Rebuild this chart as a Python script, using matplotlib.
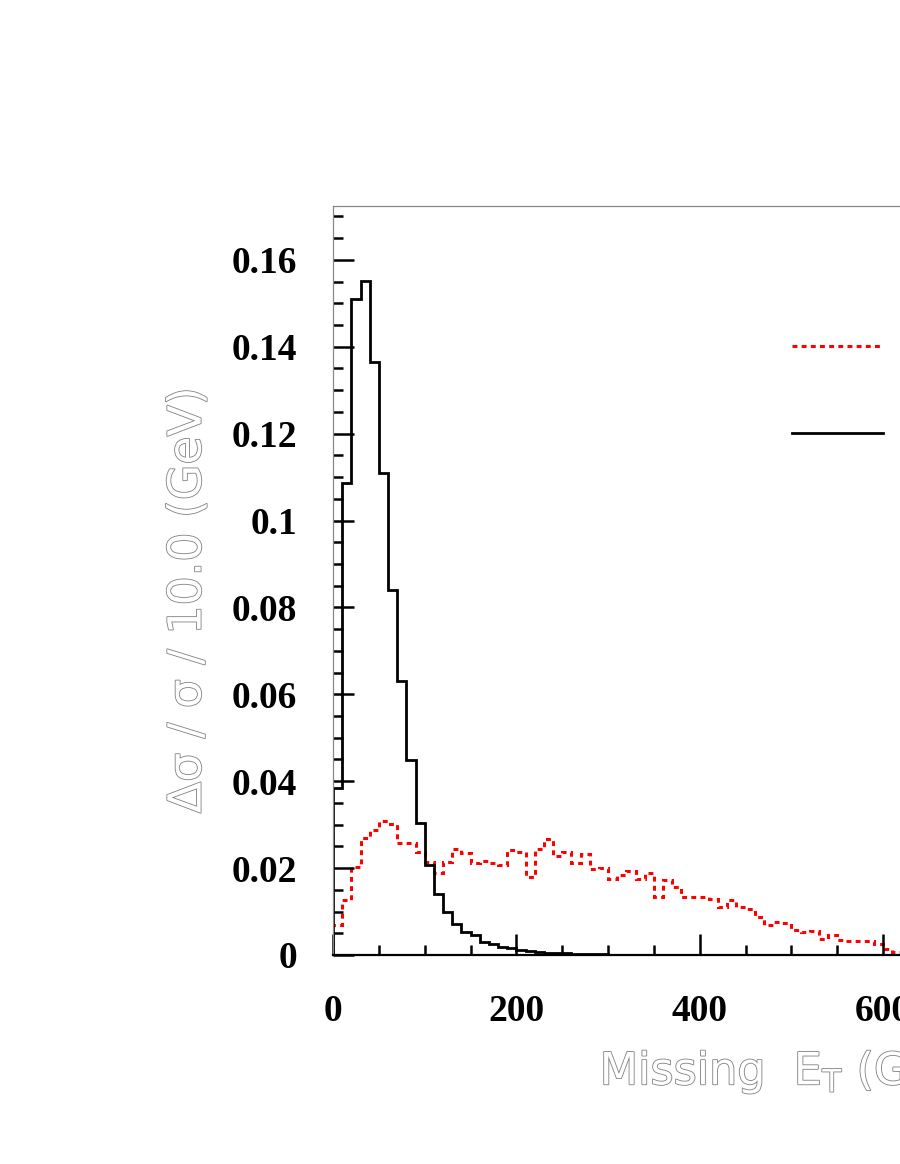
import matplotlib
matplotlib.use("Agg")
import matplotlib.pyplot as plt
import matplotlib.patheffects as pe
from matplotlib.lines import Line2D
from matplotlib.ticker import MultipleLocator, FormatStrFormatter
import numpy as np

# bin contents, 10 GeV bins starting at 0
signal_vals = [0.0068, 0.0127, 0.0203, 0.0269, 0.0288, 0.0308, 0.0301, 0.0257, 0.0257, 0.0238,
               0.0215, 0.0188, 0.0213, 0.0244, 0.0234, 0.0211, 0.0216, 0.0212, 0.0207, 0.0241,
               0.0238, 0.0180, 0.0243, 0.0266, 0.0228, 0.0238, 0.0211, 0.0233, 0.0197, 0.0200,
               0.0174, 0.0184, 0.0194, 0.0176, 0.0189, 0.0134, 0.0173, 0.0157, 0.0133, 0.0133,
               0.0133, 0.0130, 0.0111, 0.0127, 0.0110, 0.0107, 0.0087, 0.0069, 0.0076, 0.0073,
               0.0058, 0.0053, 0.0055, 0.0037, 0.0047, 0.0034, 0.0033, 0.0033, 0.0033, 0.0025,
               0.0013, 0.0008]
background_vals = [0.0384, 0.1086, 0.1509, 0.1552, 0.1366, 0.1109, 0.0840, 0.0631, 0.0449, 0.0303,
                   0.0207, 0.0140, 0.0100, 0.0071, 0.0054, 0.0045, 0.0029, 0.0025, 0.0019, 0.0015,
                   0.0012, 0.0009, 0.0006, 0.0005, 0.0005, 0.0004, 0.0003, 0.0003, 0.0002, 0.0002,
                   0.0001, 0.0001, 0.0001, 0.0001, 0.0, 0.0, 0.0, 0.0, 0.0, 0.0,
                   0.0, 0.0, 0.0, 0.0, 0.0, 0.0, 0.0, 0.0, 0.0, 0.0,
                   0.0, 0.0, 0.0, 0.0, 0.0, 0.0, 0.0, 0.0, 0.0, 0.0,
                   0.0, 0.0]
bin_width = 10
edges = np.arange(len(signal_vals) + 1) * bin_width

fig = plt.figure(figsize=(9, 11.64), dpi=100)
# axes runs past the right edge of the canvas (x range 0-1000 GeV)
ax = fig.add_axes([333 / 900, 1 - 955 / 1164, 916.7 / 900, 749 / 1164])

ax.stairs(signal_vals, edges, baseline=0, color="#ff0000", lw=2.2,
          linestyle=(0, (1.6, 1.4)))
ax.stairs(background_vals, edges, baseline=0, color="black", lw=2.0)

ax.set_xlim(0, 1000)
ax.set_ylim(0, 0.1724)

ax.xaxis.set_major_locator(MultipleLocator(200))
ax.xaxis.set_minor_locator(MultipleLocator(50))
ax.yaxis.set_major_locator(MultipleLocator(0.02))
ax.yaxis.set_minor_locator(MultipleLocator(0.005))
ax.yaxis.set_major_formatter(FormatStrFormatter("%g"))

ax.tick_params(which="both", direction="in", color="black", width=1.8,
               top=False, right=False)
ax.tick_params(which="major", length=15)
ax.tick_params(which="minor", length=7.5)
ax.tick_params(axis="y", pad=26)
ax.tick_params(axis="x", pad=28)
for lab in ax.get_xticklabels() + ax.get_yticklabels():
    lab.set_fontfamily("Liberation Serif")
    lab.set_fontweight("bold")
    lab.set_fontsize(27)

ax.spines["left"].set_color("#888888")
ax.spines["left"].set_linewidth(0.9)
ax.spines["top"].set_color("#888888")
ax.spines["top"].set_linewidth(0.9)
ax.spines["bottom"].set_color("black")
ax.spines["bottom"].set_linewidth(1.6)

outline = [pe.withStroke(linewidth=1.2, foreground="#808080")]
ax.set_ylabel("Δσ / σ / 10.0 (GeV)", fontsize=33, color="white",
              family="DejaVu Sans", va="center", path_effects=outline)
ax.yaxis.set_label_coords(-0.158, 0.474)
ax.set_xlabel("Missing  E$_{\\rm T}$ (GeV)", fontsize=32, color="white",
              family="DejaVu Sans", ha="left", va="center", path_effects=outline)
ax.xaxis.set_label_coords(0.291, -0.156)

# legend samples (labels sit beyond the canvas edge)
leg_x = [0.5007, 0.60]
ax.add_line(Line2D(leg_x, [0.813, 0.813], transform=ax.transAxes, color="#ff0000",
                   lw=2.2, linestyle=(0, (1.6, 1.4))))
ax.add_line(Line2D(leg_x, [0.697, 0.697], transform=ax.transAxes, color="black", lw=2.0))

fig.savefig("out.png", dpi=100)
